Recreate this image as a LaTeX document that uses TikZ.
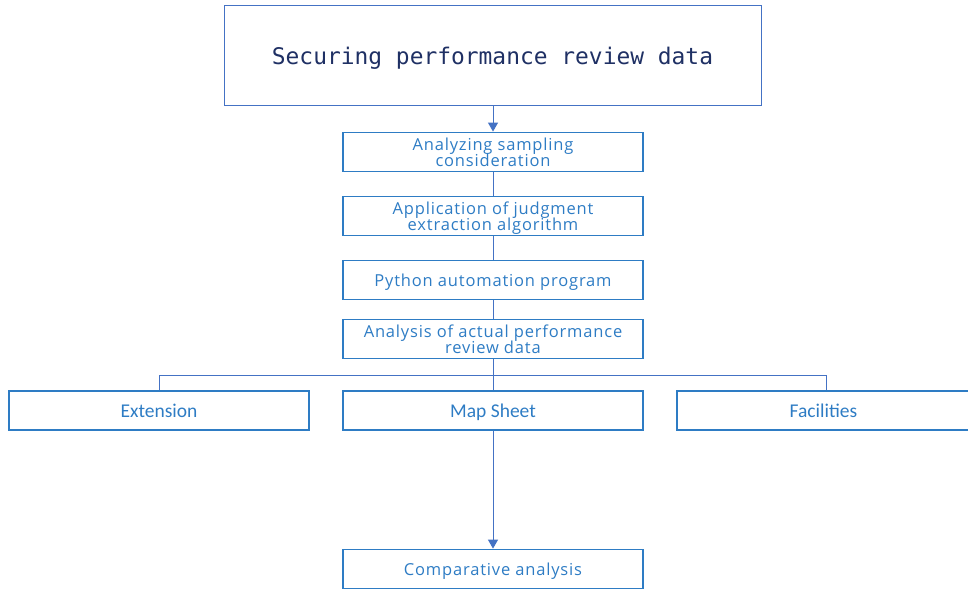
\documentclass[tikz,border=0pt]{standalone}
\usepackage{fontspec}
\setmainfont{Open Sans}[LetterSpace=5]
\newfontfamily\monofont{DejaVu Sans Mono}
\newfontfamily\narrowfont{Carlito}
\usetikzlibrary{arrows.meta}
\definecolor{linec}{HTML}{4472C4}
\definecolor{boxc}{HTML}{2E7CC4}
\definecolor{navy}{HTML}{1F3064}
\begin{document}
\begin{tikzpicture}[x=1pt,y=-1pt,
  topbox/.style={draw=linec,line width=1pt,minimum width=537pt,minimum height=100pt,inner sep=0pt},
  titletext/.style={inner sep=0pt,font=\monofont\fontsize{22.9}{26}\selectfont,text=navy},
  stepbox/.style={draw=boxc,line width=1.8pt,minimum width=300pt,minimum height=39pt,inner sep=0pt,
     align=center,text=boxc,font=\fontsize{16.5}{16.5}\selectfont,text depth=0pt},
  sidebox/.style={stepbox,font=\narrowfont\fontsize{19.5}{22}\selectfont,text height=15pt,text depth=2pt},
  conn/.style={draw=linec,line width=1pt},
  arr/.style={conn,-{Triangle[width=10pt,length=9pt]}}]
\useasboundingbox (0,0) rectangle (968,593);
\node[topbox] (top) at (492.5,56) {};
\node[titletext] (title) at (492.5,58.5) {Securing performance review data};
\node[stepbox] (s1) at (493,152) {Analyzing sampling\\consideration};
\node[stepbox] (s2) at (493,216) {Application of judgment\\extraction algorithm};
\node[stepbox] (s3) at (493,280) {Python automation program};
\node[stepbox] (s4) at (493,339) {Analysis of actual performance\\review data};
\node[sidebox] (ext) at (159,410.5) {Extension};
\node[sidebox] (map) at (493,410.5) {Map Sheet};
\node[sidebox,minimum width=293pt] (fac) at (823.5,410.5) {Facilities};
\node[stepbox] (cmp) at (493,569) {Comparative analysis};
\coordinate (hl) at (159,375);
\coordinate (hr) at (826,375);
\draw[arr] (top.south -| s1.north) -- (s1.north);
\draw[conn] (s1) -- (s2);
\draw[conn] (s2) -- (s3);
\draw[conn] (s3) -- (s4);
\draw[conn] (s4) -- (map);
\draw[conn] (hl) -- (hr);
\draw[conn] (hl) -- (ext.north -| hl);
\draw[conn] (hr) -- (fac.north -| hr);
\draw[arr] (map) -- (cmp);
\end{tikzpicture}
\end{document}
